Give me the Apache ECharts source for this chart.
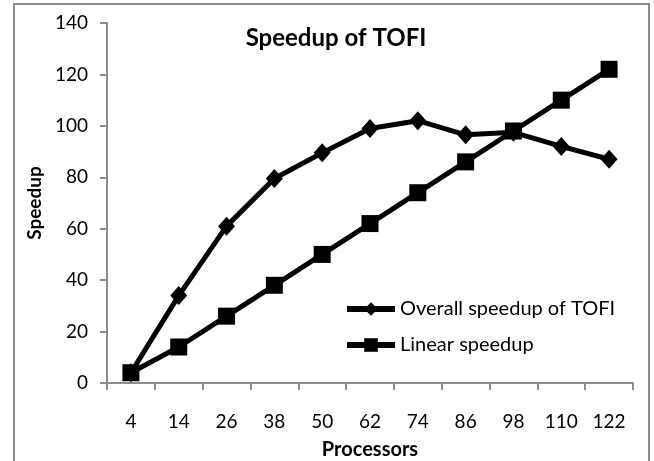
<!DOCTYPE html>
<html>
<head>
<meta charset="utf-8">
<script src="https://cdn.jsdelivr.net/npm/echarts@6/dist/echarts.min.js"></script>
<style>
  html, body { margin: 0; padding: 0; background: #fff; }
  #frame { position: absolute; left: 13px; top: 3px; width: 637px; height: 470px; border: 2px solid #8c8c8c; box-sizing: border-box; }
  #chart { position: absolute; left: 0; top: 0; width: 654px; height: 461px; }
</style>
</head>
<body>
<div id="frame"></div>
<div id="chart"></div>
<script>
// processors (x axis categories)
const processors = ['4', '14', '26', '38', '50', '62', '74', '86', '98', '110', '122'];
// speedup values
const overallSpeedup = [4, 34, 61, 79.5, 89.5, 99, 102, 96.5, 97.5, 92, 87];
const linearSpeedup = [4, 14, 26, 38, 50, 62, 74, 86, 98, 110, 122];

const font = 'Lato, "Open Sans", sans-serif';

let option = {
  backgroundColor: 'transparent',
  animation: false,
  title: {
    text: 'Speedup of TOFI',
    left: 331,
    top: 21,
    textAlign: 'center',
    textStyle: { fontFamily: font, fontSize: 24, fontWeight: 'bold', color: '#000' },
  },
  legend: {
    orient: 'vertical',
    left: 339,
    top: 294,
    itemWidth: 48,
    itemHeight: 17,
    itemGap: 16,
    lineStyle: { width: 6 },
    textStyle: { fontFamily: font, fontSize: 20, color: '#000' },
    data: ['Overall speedup of TOFI', 'Linear speedup'],
  },
  grid: { left: 107, right: 21, top: 23, bottom: 78, outerBoundsMode: 'none' },
  xAxis: {
    type: 'category',
    data: processors,
    boundaryGap: true,
    name: 'Processors',
    nameLocation: 'middle',
    nameGap: 57,
    nameTextStyle: { fontFamily: font, fontSize: 20, fontWeight: 'bold', color: '#000' },
    axisLine: { lineStyle: { color: '#8c8c8c', width: 2 } },
    axisTick: { show: true, length: 7, lineStyle: { color: '#8c8c8c', width: 2 } },
    axisLabel: { fontFamily: font, fontSize: 19, color: '#000', margin: 29 },
  },
  yAxis: {
    type: 'value',
    min: 0,
    max: 140,
    interval: 20,
    name: 'Speedup',
    nameLocation: 'middle',
    nameGap: 60,
    nameTextStyle: { fontFamily: font, fontSize: 19, fontWeight: 'bold', color: '#000' },
    axisLine: { show: true, lineStyle: { color: '#8c8c8c', width: 2 } },
    axisTick: { show: true, length: 7, lineStyle: { color: '#8c8c8c', width: 2 } },
    axisLabel: { fontFamily: font, fontSize: 19, color: '#000', margin: 19 },
    splitLine: { show: false },
  },
  series: [
    {
      name: 'Overall speedup of TOFI',
      type: 'line',
      data: overallSpeedup,
      symbol: 'diamond',
      symbolSize: [17, 19],
      itemStyle: { color: '#000' },
      lineStyle: { color: '#000', width: 5 },
      z: 3,
    },
    {
      name: 'Linear speedup',
      type: 'line',
      data: linearSpeedup,
      symbol: 'rect',
      symbolSize: 17,
      itemStyle: { color: '#000' },
      lineStyle: { color: '#000', width: 5 },
      z: 2,
    },
  ],
};

let myChart = echarts.init(document.getElementById('chart'));
myChart.setOption(option);
</script>
</body>
</html>
